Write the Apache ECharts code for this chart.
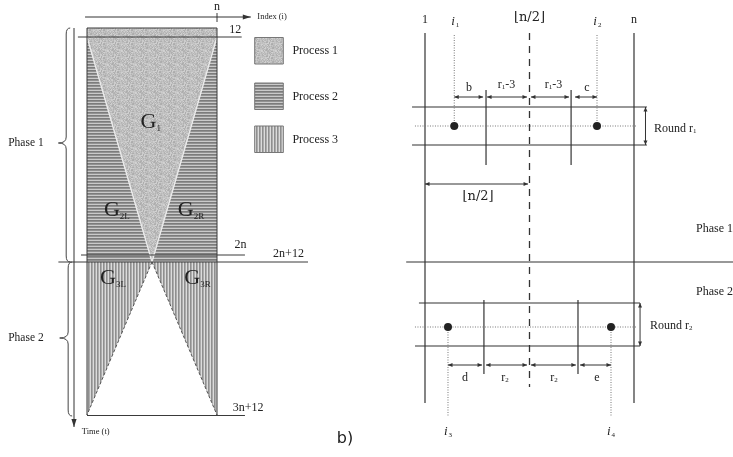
<!DOCTYPE html>
<html><head><meta charset="utf-8">
<script src="https://cdn.jsdelivr.net/npm/echarts@6/dist/echarts.min.js"></script>
<style>html,body{margin:0;padding:0;background:#fff}#c{width:733px;height:457px}</style>
</head><body><div id="c"></div>
<script>
// ================= DATA =================
// Left panel: index axis u (0 = column 1, 100 = column n), time axis t (schematic, downward)
const leftRegionPolys = [
  [[0,0],[100,0],[100,9],[0,9]],        // initial band (0..12)
  [[0,9],[50,234],[0,234]],             // G2L
  [[100,9],[100,234],[50,234]],         // G2R
  [[0,9],[100,9],[50,234]],             // G1
  [[0,234],[50,234],[0,387]],           // G3L
  [[50,234],[100,234],[100,387]]        // G3R
];
const leftRegionProcess = [1,2,2,1,3,3];
const legendLabels = ['Process 1','Process 2','Process 3'];
const legendTops = [9.5, 55, 98];
const legendBoxU = [129, 151];
const legendBoxH = 26.5;
const leftSolidSegs = [
  [[0,0],[0,387]], [[100,0],[100,387]], [[0,0],[100,0]],
  [[-7,9],[119,9]],            // 12
  [[-4.6,227],[121.5,227]],    // 2n
  [[-22,234],[170,234]],       // 2n+12
  [[0,387.5],[121.5,387.5]],   // 3n+12
  [[100,-15],[100,-6]]         // n tick
];
const leftLightSegs = [[[0,9],[50,234]], [[100,9],[50,234]]];
const leftDashedSegs = [[[50,234],[0,387]], [[50,234],[100,387]]];
const leftArrows = [[[-1.5,-11],[126,-11]], [[-10,0],[-10,399]]];
const leftBraces = [[-16,-22,0,234,115], [-14.5,-21,234,388,310]]; // [u, tipU, tTop, tBottom, tTip]
const leftTexts = [
  ['n',[100,-21],'lvl'], ['Index (i)',[131,-11],'small'], ['12',[114,1.5],'lvl'],
  ['2n',[118,217],'lvl'], ['2n+12',[155,225.5],'lvl'], ['3n+12',[124,380],'lvl'],
  ['Time (t)',[-4,404],'small'], ['Phase 1',[-47,115],'phase'], ['Phase 2',[-47,310],'phase'],
  ['{g|G}{s|1}',[49,94],'big'], ['{g|G}{s|2L}',[23,182],'big'], ['{g|G}{s|2R}',[80,182],'big'],
  ['{g|G}{s|3L}',[20,250],'big'], ['{g|G}{s|3R}',[85,250],'big'],
  ['Process 1',[158,23],'legend'], ['Process 2',[158,68.5],'legend'], ['Process 3',[158,111.5],'legend']
];
// Right panel: index axis v (0 = column 1, 100 = column n), same time axis
const rightSolidSegs = [
  [[0,5],[0,375]], [[100,5],[100,375]],
  [[-6.2,79],[106.2,79]], [[-6.2,117],[106.2,117]],
  [[29.2,62],[29.2,137]], [[69.9,62],[69.9,137]],
  [[-9,234],[148,234]],
  [[-2.9,275],[102.9,275]], [[-4.8,318],[102.9,318]],
  [[28.2,272],[28.2,346]], [[73.2,272],[73.2,346]]
];
const rightDashedSegs = [[[50,5],[50,359]]];
const rightDottedSegs = [
  [[14,7],[14,98]], [[82.3,7],[82.3,98]], [[-4.8,98],[101,98]],
  [[-4.8,299],[101,299]], [[11,299],[11,389]], [[89,299],[89,389]]
];
const rightDoubleArrows = [
  [[14,69],[27.8,69]], [[29.7,69],[48.8,69]], [[50.7,69],[68.9,69]], [[71.8,69],[82.3,69]],
  [[105.5,79],[105.5,117]], [[0,156],[49.3,156]], [[102.9,275],[102.9,318]],
  [[11,337],[27.3,337]], [[29.2,337],[48.8,337]], [[50.7,337],[72.2,337]], [[74.2,337],[89,337]]
];
const rightDots = [[14,98],[82.3,98],[11,299],[89,299]];
const rightTexts = [
  ['1',[0,-8],'lvl'], ['n',[100,-8],'lvl'], ['⌊n/2⌋',[50,-10],'floor'],
  ['{i|i}{s|1}',[14.5,-6],'ital'], ['{i|i}{s|2}',[82.5,-6],'ital'],
  ['{i|i}{s|3}',[11,404],'ital'], ['{i|i}{s|4}',[89,404],'ital'],
  ['b',[21,60],'lvl'], ['{a|r}{s|1}{a|-3}',[39,57],'dim'], ['{a|r}{s|1}{a|-3}',[61.5,57],'dim'], ['c',[77.5,60],'lvl'],
  ['⌊n/2⌋',[25.4,169],'floor'],
  ['{a|Round r}{s|1}',[109.6,101],'round'], ['{a|Round r}{s|2}',[107.7,298],'round'],
  ['Phase 1',[129.7,201],'phaseR'], ['Phase 2',[129.7,264],'phaseR'],
  ['d',[19.1,350],'lvl'], ['{a|r}{s|2}',[38.3,350],'dim'], ['{a|r}{s|2}',[61.7,350],'dim'], ['e',[82.3,350],'lvl'],
  ['b)',[-38.3,411],'tag']
];

// ================= STYLES =================
const SERIF = '"Liberation Serif","DejaVu Serif",serif';
const INK = '#222';
const textStyles = {
  lvl:   {fontSize:12, fontFamily:SERIF, align:'center'},
  small: {fontSize:8.5, fontFamily:SERIF, align:'left'},
  phase: {fontSize:11.5, fontFamily:SERIF, align:'center'},
  phaseR:{fontSize:12, fontFamily:SERIF, align:'left'},
  legend:{fontSize:12, fontFamily:SERIF, align:'left'},
  floor: {fontSize:13, fontFamily:'"DejaVu Serif",serif', align:'center'},
  big:   {align:'center', rich:{g:{fontSize:22, fontFamily:SERIF, fill:INK}, s:{fontSize:9, fontFamily:SERIF, fill:INK, padding:[13,0,0,0]}}},
  ital:  {align:'center', rich:{i:{fontSize:13, fontFamily:SERIF, fontStyle:'italic', fill:INK}, s:{fontSize:7, fontFamily:SERIF, fill:INK, padding:[6,0,0,1]}}},
  dim:   {align:'center', rich:{a:{fontSize:12, fontFamily:SERIF, fill:INK}, s:{fontSize:7, fontFamily:SERIF, fill:INK, padding:[5,0,0,0]}}},
  round: {align:'left', rich:{a:{fontSize:12, fontFamily:SERIF, fill:INK}, s:{fontSize:7, fontFamily:SERIF, fill:INK, padding:[5,0,0,0]}}},
  tag:   {fontSize:16, fontFamily:'"DejaVu Sans",sans-serif', align:'center'}
};

function makePattern(kind){
  const c = document.createElement('canvas');
  const ctx = c.getContext('2d');
  if (kind === 1) {
    c.width = 14; c.height = 14;
    for (let y = 0; y < 14; y++) for (let x = 0; x < 14; x++) {
      const h = ((x*53 + y*29 + ((x*y) % 7)*19 + (x>>1)*11 + (y>>1)*23) % 17);
      const g = Math.round(172 + h * 2.4);
      ctx.fillStyle = 'rgb(' + g + ',' + g + ',' + g + ')';
      ctx.fillRect(x, y, 1, 1);
    }
  } else if (kind === 2) {
    c.width = 4; c.height = 3;
    ['#cacaca','#7c7c7c','#929292'].forEach((col, i) => { ctx.fillStyle = col; ctx.fillRect(0, i, 4, 1); });
  } else {
    c.width = 3; c.height = 4;
    ['#dcdcdc','#8f8f8f','#acacac'].forEach((col, i) => { ctx.fillStyle = col; ctx.fillRect(i, 0, 1, 4); });
  }
  return {image: c, repeat: 'repeat'};
}
const patterns = {1: makePattern(1), 2: makePattern(2), 3: makePattern(3)};

// ================= SERIES BUILDERS =================
function base(grid, data, renderItem){
  return {type:'custom', coordinateSystem:'cartesian2d', xAxisIndex:grid, yAxisIndex:grid,
    silent:true, animation:false, clip:false, data:data, renderItem:renderItem};
}
function polySeries(grid, polys, fills, stroke){
  return base(grid, polys.map(p => p[0]), (params, api) => ({
    type:'polygon', shape:{points: polys[params.dataIndex].map(p => api.coord(p))},
    style:{fill: fills[params.dataIndex], stroke: stroke || null, lineWidth: stroke ? 1 : 0}
  }));
}
function segSeries(grid, segs, style){
  return base(grid, segs.map(s => s[0]), (params, api) => {
    const a = api.coord(segs[params.dataIndex][0]), b = api.coord(segs[params.dataIndex][1]);
    return {type:'line', shape:{x1:a[0], y1:a[1], x2:b[0], y2:b[1]},
      style:Object.assign({stroke:'#333', lineWidth:1}, style)};
  });
}
function head(tip, from, len, hw){
  const dx = tip[0]-from[0], dy = tip[1]-from[1], d = Math.hypot(dx,dy) || 1;
  const ux = dx/d, uy = dy/d;
  return [tip, [tip[0]-ux*len - uy*hw, tip[1]-uy*len + ux*hw], [tip[0]-ux*len + uy*hw, tip[1]-uy*len - ux*hw]];
}
function arrowSeries(grid, segs, both, len, hw, lw){
  return base(grid, segs.map(s => s[0]), (params, api) => {
    const a = api.coord(segs[params.dataIndex][0]), b = api.coord(segs[params.dataIndex][1]);
    const ch = [{type:'line', shape:{x1:a[0],y1:a[1],x2:b[0],y2:b[1]}, style:{stroke:'#333', lineWidth:lw}},
      {type:'polygon', shape:{points: head(b, a, len, hw)}, style:{fill:'#333'}}];
    if (both) ch.push({type:'polygon', shape:{points: head(a, b, len, hw)}, style:{fill:'#333'}});
    return {type:'group', children: ch};
  });
}
function braceSeries(grid, braces){
  return base(grid, braces.map(b => [b[0], b[2]]), (params, api) => {
    const b = braces[params.dataIndex];
    const top = api.coord([b[0], b[2]]), bot = api.coord([b[0], b[3]]), tip = api.coord([b[1], b[4]]);
    const x0 = top[0], xt = tip[0], r = 6, xr = x0 + 4, m = tip[1];
    const d = 'M' + xr + ' ' + top[1] + ' Q' + x0 + ' ' + top[1] + ' ' + x0 + ' ' + (top[1]+r) +
      ' L' + x0 + ' ' + (m-r) + ' Q' + x0 + ' ' + m + ' ' + xt + ' ' + m +
      ' Q' + x0 + ' ' + m + ' ' + x0 + ' ' + (m+r) +
      ' L' + x0 + ' ' + (bot[1]-r) + ' Q' + x0 + ' ' + bot[1] + ' ' + xr + ' ' + bot[1];
    return {type:'path', shape:{pathData:d}, style:{stroke:'#444', fill:null, lineWidth:1}};
  });
}
function dotSeries(grid, pts){
  return base(grid, pts, (params, api) => {
    const p = api.coord(pts[params.dataIndex]);
    return {type:'circle', shape:{cx:p[0], cy:p[1], r:4}, style:{fill:'#222'}};
  });
}
function textSeries(grid, texts){
  return base(grid, texts.map(t => t[1]), (params, api) => {
    const t = texts[params.dataIndex];
    const p = api.coord(t[1]);
    return {type:'text', x:p[0], y:p[1],
      style:Object.assign({text:t[0], fill:INK, verticalAlign:'middle'}, textStyles[t[2]])};
  });
}

// ================= CHART =================
const legendPolys = legendTops.map(t => [[legendBoxU[0],t],[legendBoxU[1],t],[legendBoxU[1],t+legendBoxH],[legendBoxU[0],t+legendBoxH]]);
const hiddenAxis = (min, max, inv) => ({type:'value', min:min, max:max, inverse:!!inv, show:false});

const chart = echarts.init(document.getElementById('c'), null, {renderer:'canvas'});
chart.setOption({
  animation:false,
  backgroundColor:'#ffffff',
  grid:[{left:87, top:28, width:130, height:387}, {left:425, top:28, width:209, height:387}],
  xAxis:[hiddenAxis(0,100), Object.assign(hiddenAxis(0,100), {gridIndex:1})],
  yAxis:[hiddenAxis(0,387,true), Object.assign(hiddenAxis(0,387,true), {gridIndex:1})],
  series:[
    polySeries(0, leftRegionPolys, leftRegionProcess.map(k => patterns[k])),
    polySeries(0, legendPolys, [patterns[1], patterns[2], patterns[3]], '#777'),
    segSeries(0, leftLightSegs, {stroke:'#ececec', lineWidth:1.3}),
    segSeries(0, leftDashedSegs, {stroke:'#555', lineWidth:1, lineDash:[3,2]}),
    segSeries(0, leftSolidSegs, {stroke:'#3a3a3a', lineWidth:1}),
    arrowSeries(0, leftArrows, false, 8, 2.6, 1),
    braceSeries(0, leftBraces),
    textSeries(0, leftTexts),
    segSeries(1, rightSolidSegs, {stroke:'#333', lineWidth:1.2}),
    segSeries(1, rightDashedSegs, {stroke:'#333', lineWidth:1.3, lineDash:[7,6]}),
    segSeries(1, rightDottedSegs, {stroke:'#777', lineWidth:1, lineDash:[1,1.5]}),
    arrowSeries(1, rightDoubleArrows, true, 4.5, 2, 1),
    dotSeries(1, rightDots),
    textSeries(1, rightTexts)
  ]
});
</script></body></html>
